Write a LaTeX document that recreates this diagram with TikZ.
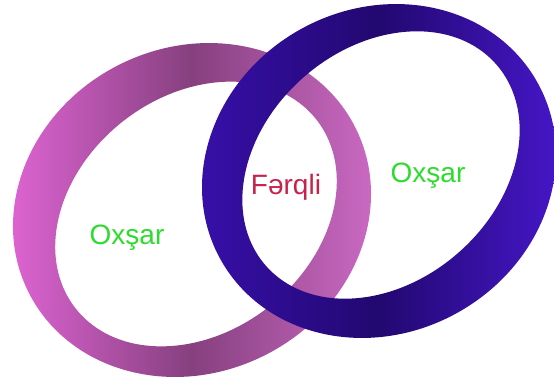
\documentclass[tikz,border=0pt]{standalone}
\usepackage{fontspec}
\setmainfont{Liberation Sans}
\definecolor{pinkL}{HTML}{E868DC}
\definecolor{pinkM}{HTML}{86407F}
\definecolor{pinkR}{HTML}{D36ECB}
\definecolor{purL}{HTML}{3A10B0}
\definecolor{purM}{HTML}{220870}
\definecolor{purR}{HTML}{4A18D2}
\definecolor{simgreen}{HTML}{2EDC2E}
\definecolor{difred}{HTML}{C8224A}
\tikzset{
  ringlabel/.style={font=\fontsize{28}{32}\selectfont, inner sep=0pt},
}
\begin{document}
\begin{tikzpicture}[x=1pt,y=-1pt]
\useasboundingbox (0,0) rectangle (554,380);
\fill[white] (0,0) rectangle (554,380);
% pink ring (behind)
\shade[even odd rule, left color=pinkL, right color=pinkR, middle color=pinkM]
  (192,210) ellipse [x radius=183, y radius=162.5, rotate=27]
  (196,214) ellipse [x radius=153, y radius=118, rotate=38];
% purple ring (front)
\shade[even odd rule, left color=purL, right color=purR, middle color=purM]
  (379,171) ellipse [x radius=181.5, y radius=162, rotate=29.5]
  (381,165) ellipse [x radius=153, y radius=117, rotate=41];
\node[ringlabel, text=simgreen] (left) at (127,238) {Oxşar};
\node[ringlabel, text=difred] (mid) at (286,187) {Fərqli};
\node[ringlabel, text=simgreen] (right) at (428,176) {Oxşar};
\end{tikzpicture}
\end{document}
